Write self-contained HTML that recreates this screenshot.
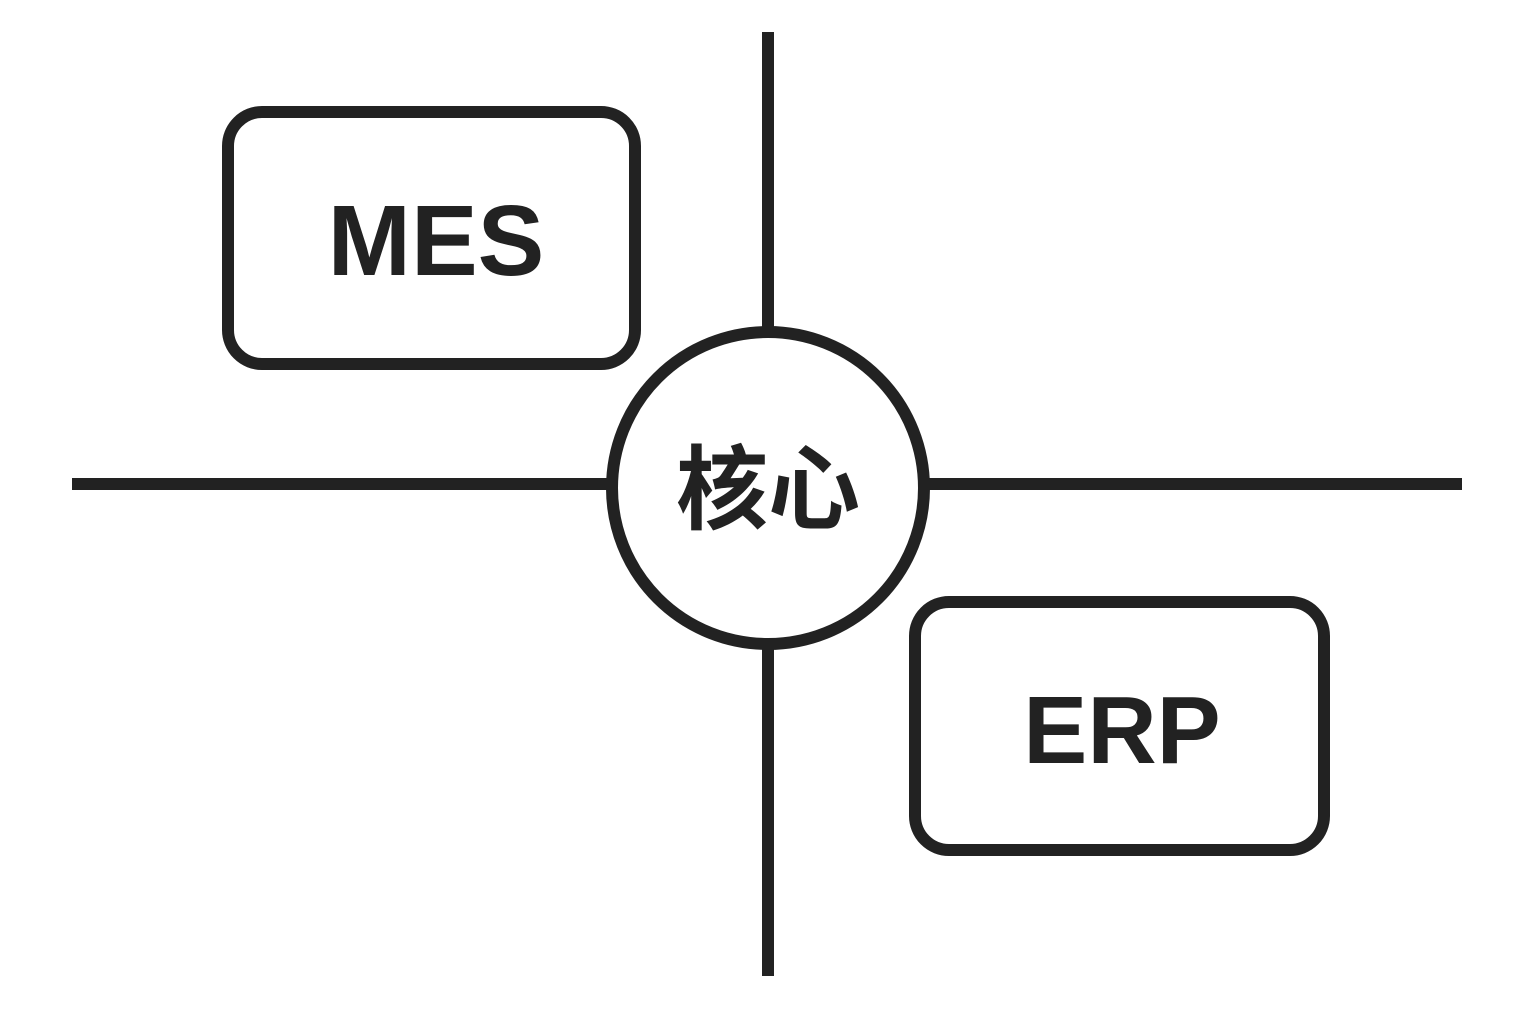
<!DOCTYPE html>
<html><head><meta charset="utf-8"><style>html,body{margin:0;padding:0;background:#fff;}svg{display:block}</style></head>
<body>
<svg width="1536" height="1024" viewBox="0 0 1536 1024" xmlns="http://www.w3.org/2000/svg">
<g stroke="#222" stroke-width="12" fill="none">
<line x1="768" y1="32" x2="768" y2="330"/>
<line x1="768" y1="648" x2="768" y2="976"/>
<line x1="72" y1="484" x2="608" y2="484"/>
<line x1="928" y1="484" x2="1462" y2="484"/>
<circle cx="768" cy="488" r="156" fill="#fff"/>
<rect x="228" y="112" width="407" height="252" rx="34"/>
<rect x="915" y="602" width="409" height="248" rx="34"/>
</g>
<g fill="#222" font-family="'Liberation Sans','Noto Sans CJK SC',sans-serif" font-weight="bold" text-anchor="middle">
<text x="436" y="275" font-size="100">MES</text>
<text x="1122" y="763" font-size="96">ERP</text>
<text x="768" y="522" font-size="92" font-weight="bold" font-family="'Noto Sans CJK SC','WenQuanYi Zen Hei',sans-serif">核心</text>
</g>
</svg>
</body></html>
